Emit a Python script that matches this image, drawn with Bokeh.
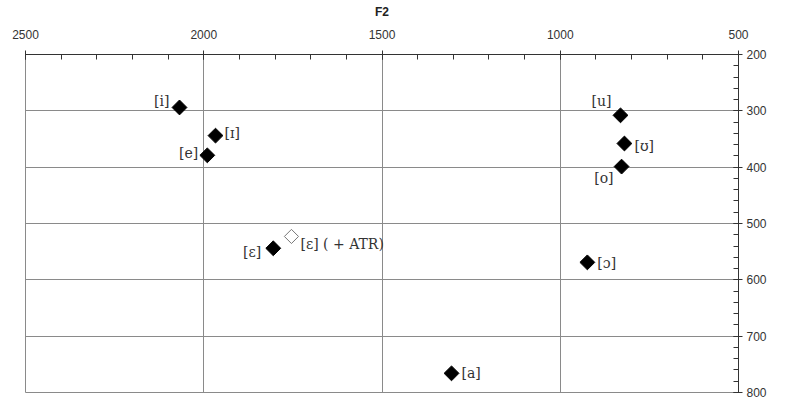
from bokeh.plotting import figure
from bokeh.models import Range1d, FixedTicker, ColumnDataSource, Label
from bokeh.core.properties import value
from bokeh.embed import file_html
from bokeh.resources import INLINE

# data
vowels = ["[i]", "[ɪ]", "[e]", "[ɛ]", "[a]", "[ɔ]", "[o]", "[ʊ]", "[u]"]
f2 = [2068, 1967, 1990, 1805, 1305, 924, 828, 820, 831]
f1 = [294, 344, 379, 544, 766, 569, 399, 358, 308]

atr_vowel = ["[ɛ] ( + ATR)"]
atr_f2 = [1754]
atr_f1 = [523]

f2_ticks = [2500, 2000, 1500, 1000, 500]
f2_minor = list(range(500, 2600, 100))
f1_ticks = [200, 300, 400, 500, 600, 700, 800]
f1_minor = list(range(200, 820, 20))

# label placement (screen px offsets), align
label_pos = {
    "[i]": (-10, -6, "right"),
    "[ɪ]": (9, -3, "left"),
    "[e]": (-9, -2, "right"),
    "[ɛ]": (-12, 4, "right"),
    "[a]": (10, 0, "left"),
    "[ɔ]": (10, 1, "left"),
    "[o]": (-8, 11, "right"),
    "[ʊ]": (10, 2, "left"),
    "[u]": (-9, -14, "right"),
}

p = figure(width=789, height=401, output_backend="svg", toolbar_location=None,
           x_range=Range1d(2500, 500), y_range=Range1d(800, 200),
           x_axis_location="above", y_axis_location="right",
           min_border_left=25, min_border_right=51, min_border_top=54,
           min_border_bottom=9)
p.background_fill_color = "white"
p.border_fill_color = "white"
p.outline_line_color = "#8a8a8a"
p.outline_line_width = 1

xa = p.xaxis[0]
xa.ticker = FixedTicker(ticks=f2_ticks, minor_ticks=f2_minor)
xa.axis_label = "F2"
xa.axis_label_text_font = "Liberation Sans"
xa.axis_label_text_font_style = "bold"
xa.axis_label_text_font_size = "12px"
xa.axis_label_text_color = "#222222"
xa.axis_label_standoff = 8
ya = p.yaxis[0]
ya.ticker = FixedTicker(ticks=f1_ticks, minor_ticks=f1_minor)
for ax in (xa, ya):
    ax.axis_line_color = "#333333"
    ax.major_tick_line_color = "#333333"
    ax.minor_tick_line_color = "#333333"
    ax.major_tick_in = 5
    ax.major_tick_out = 4
    ax.minor_tick_in = 5
    ax.minor_tick_out = 0
    ax.major_label_text_font = "Liberation Sans"
    ax.major_label_text_font_size = "12px"
    ax.major_label_text_color = "#333333"
xa.major_label_standoff = 12
ya.major_label_standoff = 4

p.xgrid.ticker = FixedTicker(ticks=f2_ticks)
p.ygrid.ticker = FixedTicker(ticks=f1_ticks)
for g in (p.xgrid, p.ygrid):
    g.grid_line_color = "#8a8a8a"
    g.grid_line_width = 1

p.add_layout(Label(x=500, y=500, x_offset=35, text="F1", text_font="Liberation Sans",
                   text_font_style="bold", text_font_size="12px",
                   text_color="#222222", text_baseline="middle"))

src = ColumnDataSource(dict(
    x=f2, y=f1, t=vowels,
    xo=[label_pos[v][0] for v in vowels],
    yo=[label_pos[v][1] for v in vowels],
    al=[label_pos[v][2] for v in vowels],
))
p.scatter("x", "y", source=src, marker="square", size=10.5, angle=45,
          angle_units="deg", fill_color="black", line_color="black")
p.text("x", "y", text="t", source=src, x_offset="xo", y_offset="yo",
       text_align="al", text_baseline="middle",
       text_font=value("DejaVu Serif"), text_font_size="14px",
       text_color="#333333")

src2 = ColumnDataSource(dict(x=atr_f2, y=atr_f1, t=atr_vowel))
p.scatter("x", "y", source=src2, marker="square", size=10, angle=45,
          angle_units="deg", fill_color="white", line_color="#777777")
p.text("x", "y", text="t", source=src2, x_offset=9, y_offset=8,
       text_align="left", text_baseline="middle",
       text_font=value("DejaVu Serif"), text_font_size="14px",
       text_color="#333333")

open("out.html", "w").write(file_html(p, INLINE))
